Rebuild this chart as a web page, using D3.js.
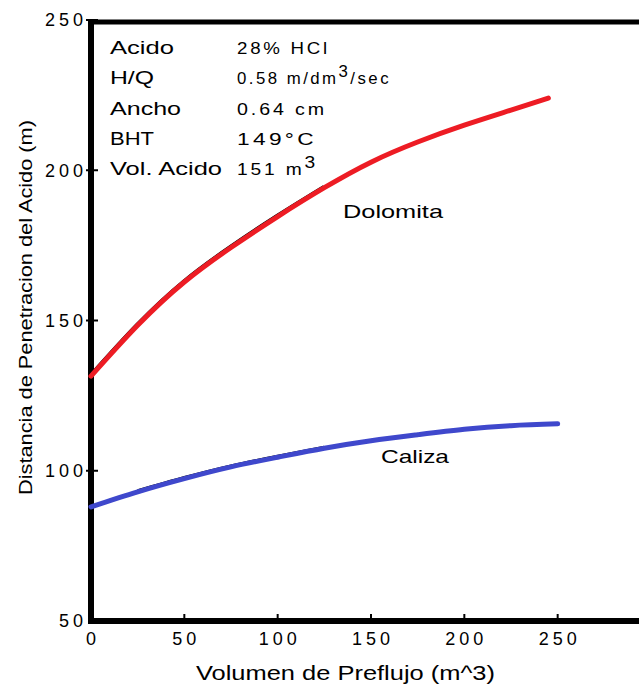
<!DOCTYPE html>
<html>
<head>
<meta charset="utf-8">
<script src="https://cdn.jsdelivr.net/npm/d3@7"></script>
<style>
body { margin: 0; background: #fff; }
svg { display: block; }
text { font-family: "Liberation Sans", Arial, sans-serif; fill: #000; }
</style>
</head>
<body>
<svg id="chart" width="639" height="685"></svg>
<script>
// volumen de preflujo (m^3)
var volDolomita = [0, 25, 50, 75, 100, 125, 150, 175, 200, 225, 245];
var dolomita = [131.5, 148.4, 162.8, 174.3, 184.6, 194.2, 202.7, 209.4, 215, 220, 224];

var volCaliza = [0, 25, 50, 75, 100, 125, 150, 175, 200, 225, 250];
var caliza = [88, 93, 97.4, 101.3, 104.5, 107.5, 110, 112, 113.8, 115, 115.6];

var xTicks = [0, 50, 100, 150, 200, 250];
var yTicks = [50, 100, 150, 200, 250];

var infoLabels = ["Acido", "H/Q", "Ancho", "BHT", "Vol. Acido"];
var infoValues = [["28% HCl"], ["0.58 m/dm", "3", "/sec"], ["0.64 cm"], ["149\u00b0C"], ["151 m", "3"]];

var svg = d3.select("#chart");

var x = d3.scaleLinear().domain([0, 300]).range([91, 651]);
var y = d3.scaleLinear().domain([50, 250]).range([621, 20]);

// frame
svg.append("line").attr("x1", 88).attr("x2", 639).attr("y1", 22).attr("y2", 22)
  .attr("stroke", "#000").attr("stroke-width", 5);
svg.append("line").attr("x1", 91).attr("x2", 91).attr("y1", 20).attr("y2", 624)
  .attr("stroke", "#000").attr("stroke-width", 6);
svg.append("line").attr("x1", 88).attr("x2", 639).attr("y1", 621).attr("y2", 621)
  .attr("stroke", "#000").attr("stroke-width", 6);

// ticks
svg.selectAll(".xt").data(xTicks.slice(1)).enter().append("line")
  .attr("x1", d => x(d)).attr("x2", d => x(d)).attr("y1", 621).attr("y2", 614)
  .attr("stroke", "#000").attr("stroke-width", 2);
svg.selectAll(".yt").data(yTicks.slice(1)).enter().append("line")
  .attr("x1", 86).attr("x2", 98).attr("y1", d => y(d)).attr("y2", d => y(d))
  .attr("stroke", "#000").attr("stroke-width", 2);

svg.selectAll(".xl").data(xTicks).enter().append("text")
  .attr("x", d => x(d) + 2).attr("y", 645)
  .attr("text-anchor", "middle")
  .style("font-size", "18px").style("letter-spacing", "4px")
  .text(d => d);
svg.selectAll(".yl").data(yTicks).enter().append("text")
  .attr("x", 87).attr("y", d => y(d)).attr("dy", "0.35em")
  .attr("text-anchor", "end")
  .style("font-size", "18px").style("letter-spacing", "4px")
  .text(d => d);

// axis titles
svg.append("text").attr("x", 196).attr("y", 680)
  .attr("textLength", 299).attr("lengthAdjust", "spacingAndGlyphs")
  .style("font-size", "21px")
  .text("Volumen de Preflujo (m^3)");
svg.append("text")
  .attr("transform", "translate(32,495) rotate(-90)")
  .attr("textLength", 375).attr("lengthAdjust", "spacingAndGlyphs")
  .style("font-size", "19px")
  .text("Distancia de Penetracion del Acido (m)");

// curves
var line = d3.line().curve(d3.curveNatural);
var redPts = volDolomita.map((v, i) => [x(v), y(dolomita[i])]);
var bluePts = volCaliza.map((v, i) => [x(v), y(caliza[i])]);

svg.append("path").attr("d", line(redPts.slice(0, 6))).attr("fill", "none")
  .attr("stroke", "#000").attr("stroke-width", 3).attr("transform", "translate(-0.5,-1.2)");
svg.append("path").attr("d", line(redPts)).attr("fill", "none")
  .attr("stroke", "#ed1c24").attr("stroke-width", 5).attr("stroke-linecap", "round");

svg.append("path").attr("d", line(bluePts.slice(1, 6))).attr("fill", "none")
  .attr("stroke", "#000").attr("stroke-width", 3).attr("transform", "translate(0,-1)");
svg.append("path").attr("d", line(bluePts)).attr("fill", "none")
  .attr("stroke", "#3f48cc").attr("stroke-width", 5).attr("stroke-linecap", "round");

svg.append("text").attr("x", 343).attr("y", 218)
  .attr("textLength", 100).attr("lengthAdjust", "spacingAndGlyphs")
  .style("font-size", "19px").text("Dolomita");
svg.append("text").attr("x", 381).attr("y", 463)
  .attr("textLength", 68).attr("lengthAdjust", "spacingAndGlyphs")
  .style("font-size", "19px").text("Caliza");

// info block
var labelWidths = [64, 44, 71, 44, 112];
var valueWidths = [93, 154, 90, 80, 81];
infoLabels.forEach(function(lab, i) {
  var by = 54 + i * 30.3;
  svg.append("text").attr("x", 110).attr("y", by)
    .attr("textLength", labelWidths[i]).attr("lengthAdjust", "spacingAndGlyphs")
    .style("font-size", "19px").text(lab);
  var t = svg.append("text").attr("x", 237).attr("y", by)
    .attr("textLength", valueWidths[i]).attr("lengthAdjust", "spacingAndGlyphs")
    .style("font-size", "17px").style("letter-spacing", "2.5px");
  infoValues[i].forEach(function(part, k) {
    var sp = t.append("tspan").text(part);
    if (part === "3") sp.attr("dy", -7);
    else if (k > 0) sp.attr("dy", 7);
  });
});
</script>
</body>
</html>
